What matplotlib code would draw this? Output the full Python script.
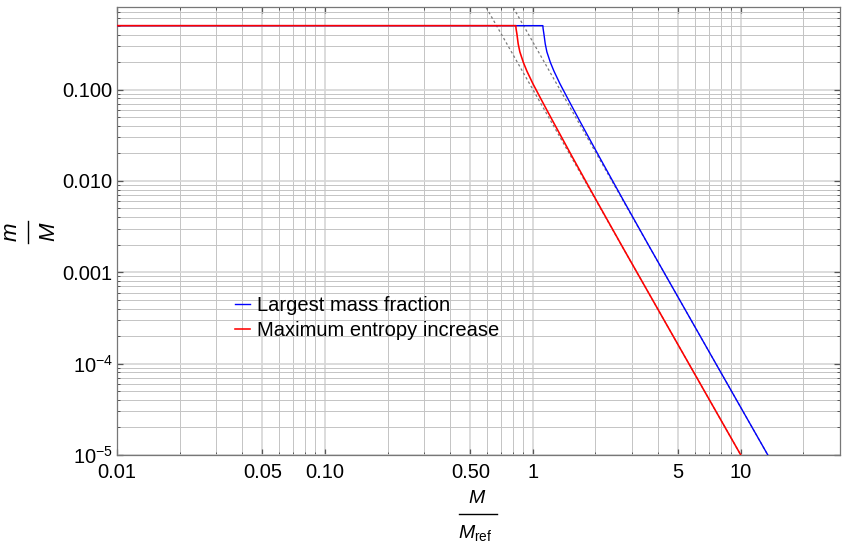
import numpy as np
import matplotlib
matplotlib.use("Agg")
import matplotlib.pyplot as plt
from matplotlib.lines import Line2D
from matplotlib.ticker import FixedLocator, FixedFormatter

plt.rcParams['font.family'] = ['Liberation Sans', 'DejaVu Sans']
plt.rcParams['mathtext.fontset'] = 'custom'
plt.rcParams['mathtext.rm'] = 'Liberation Sans'
plt.rcParams['mathtext.it'] = 'Liberation Sans:italic'

# largest mass fraction (blue)
blue_x = [0.01, 1.117, 1.120, 1.130, 1.147, 1.168, 1.214, 1.263, 1.349, 1.507, 1.682, 2.099, 2.739, 3.656, 6.745, 13.49, 27.0]
blue_y = [0.5, 0.5, 0.464, 0.406, 0.316, 0.258, 0.198, 0.159, 0.116, 0.0719, 0.0451, 0.0179, 0.0060, 0.00186, 1.6e-4, 1.0e-5, 6.25e-7]

# maximum entropy increase (red)
red_x = [0.01, 0.828, 0.830, 0.838, 0.850, 0.866, 0.900, 0.936, 1.0, 1.117, 1.247, 1.556, 2.03, 2.71, 5.0, 10.0, 20.0]
red_y = [0.5, 0.5, 0.464, 0.406, 0.316, 0.258, 0.198, 0.159, 0.116, 0.0719, 0.0451, 0.0179, 0.0060, 0.00186, 1.6e-4, 1.0e-5, 6.25e-7]

# dashed asymptotes m/M ~ c * x^-4
asym_x = [0.4, 30.0]
asym_c = [0.1, 0.331]

xtick_vals = [0.01, 0.05, 0.1, 0.5, 1, 5, 10]
xtick_labels = ['0.01', '0.05', '0.10', '0.50', '1', '5', '10']
ytick_vals = [1e-5, 1e-4, 1e-3, 1e-2, 1e-1]
ytick_labels = [r'$10^{-5}$', r'$10^{-4}$', '0.001', '0.010', '0.100']

W, H = 847, 550
fig = plt.figure(figsize=(W / 100, H / 100), dpi=100)
ax = fig.add_axes([117 / W, 1 - 455 / H, 723 / W, 448 / H])

for c in asym_c:
    xs = np.array(asym_x)
    ax.plot(xs, c * xs ** -4.0, color='#7a7a7a', lw=0.9, ls=(0, (2, 2)), zorder=2)

ax.plot(blue_x, blue_y, color='#0000ff', lw=1.0, label='Largest mass fraction', zorder=3)
ax.plot(red_x, red_y, color='#ff0000', lw=1.15, label='Maximum entropy increase', zorder=4)

ax.set_xscale('log')
ax.set_yscale('log')
ax.set_xlim(0.01, 30)
ax.set_ylim(1e-5, 0.8)

# minor positions: every 1..9 of each decade
xminor = [m * 10.0 ** e for e in range(-2, 2) for m in range(1, 10)] + [20]
xminor = [v for v in xminor if v not in xtick_vals]
yminor = [m * 10.0 ** e for e in range(-5, 0) for m in range(1, 10)]
yminor = [v for v in yminor if v not in ytick_vals and v <= 0.8]

ax.xaxis.set_major_locator(FixedLocator(xtick_vals))
ax.xaxis.set_major_formatter(FixedFormatter(xtick_labels))
ax.xaxis.set_minor_locator(FixedLocator(xminor))
ax.xaxis.set_minor_formatter(FixedFormatter([''] * len(xminor)))
ax.yaxis.set_major_locator(FixedLocator(ytick_vals))
ax.yaxis.set_major_formatter(FixedFormatter(ytick_labels))
ax.yaxis.set_minor_locator(FixedLocator(yminor))
ax.yaxis.set_minor_formatter(FixedFormatter([''] * len(yminor)))

ax.grid(which='major', color='#d6d6d6', lw=1.2, zorder=0)
ax.grid(which='minor', color='#c4c4c4', lw=0.7, zorder=0)
ax.set_axisbelow(True)

ax.tick_params(which='both', direction='in', top=True, right=True, color='#555555')
ax.tick_params(which='major', length=4.5, width=0.9, labelsize=14.5)
ax.tick_params(axis='x', which='major', pad=6)
ax.tick_params(axis='y', which='major', pad=3)
ax.tick_params(which='minor', length=2.5, width=0.7)
for s in ax.spines.values():
    s.set_color('#777777')
    s.set_linewidth(0.9)

# x label: M over M_ref, drawn as a stacked fraction
fig.text(477 / W, 1 - 503 / H, r'$M$', fontsize=14, ha='center', va='baseline')
fig.add_artist(Line2D([459 / W, 497 / W], [1 - 514 / H, 1 - 514 / H], color='black', lw=1.0))
fig.text(475 / W, 1 - 538 / H, r'$M_{\mathrm{ref}}$', fontsize=14, ha='center', va='baseline')

# y label: m over M, rotated
fig.text(17 / W, 1 - 232 / H, r'$m$', fontsize=16, rotation=90, rotation_mode='anchor',
         ha='center', va='baseline')
fig.add_artist(Line2D([28 / W, 28 / W], [1 - 221 / H, 1 - 243 / H], color='black', lw=1.0))
fig.text(55 / W, 1 - 232 / H, r'$M$', fontsize=16, rotation=90, rotation_mode='anchor',
         ha='center', va='baseline')

ax.legend(loc='center left', bbox_to_anchor=(0.163, 0.305), frameon=False,
          fontsize=14.5, handlelength=0.75, handletextpad=0.35, borderpad=0,
          borderaxespad=0, labelspacing=0.3)

fig.savefig('out.png', dpi=100)
